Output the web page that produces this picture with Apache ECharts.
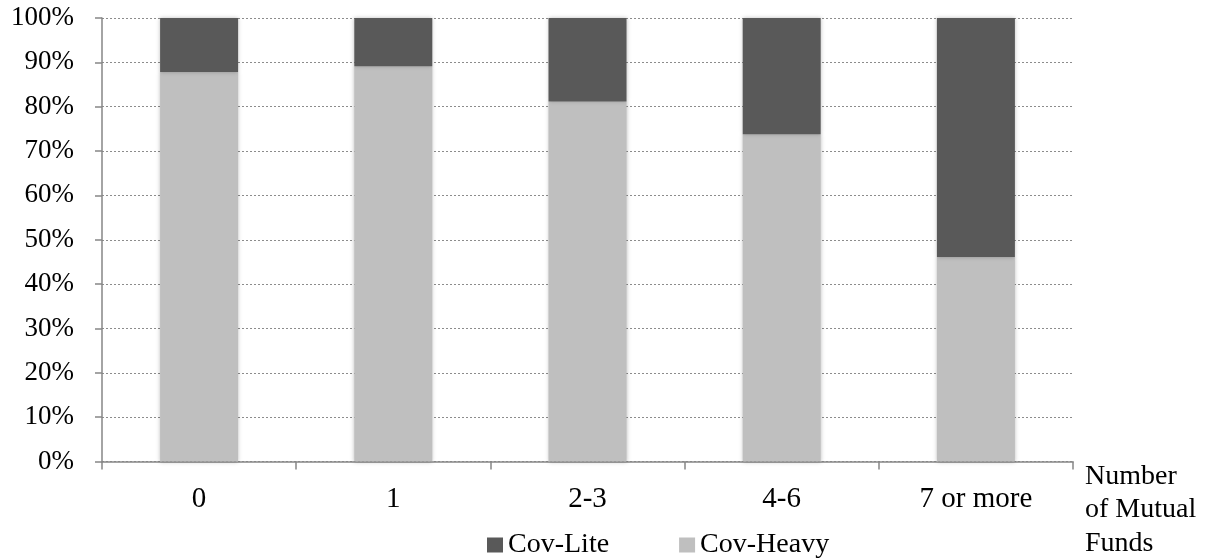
<!DOCTYPE html>
<html>
<head>
<meta charset="utf-8">
<script src="https://cdn.jsdelivr.net/npm/echarts@6/dist/echarts.min.js"></script>
<style>html,body{margin:0;padding:0;background:#fff}#c{width:1212px;height:560px}</style>
</head>
<body>
<div id="c"></div>
<script>
const categories = ['0', '1', '2-3', '4-6', '7 or more'];
const covHeavy = [87.8, 89.1, 81.2, 73.8, 46.1];
const covLite = [12.2, 10.9, 18.8, 26.2, 53.9];
const yTicks = [0, 10, 20, 30, 40, 50, 60, 70, 80, 90, 100];

const font = '"Liberation Serif", "Times New Roman", serif';
const axisColor = '#868686';
const chart = echarts.init(document.getElementById('c'));
chart.setOption({
  animation: false,
  textStyle: { fontFamily: font },
  grid: { left: 102, right: 139, top: 18, bottom: 96 },
  legend: {
    data: ['Cov-Lite', 'Cov-Heavy'],
    left: 482, top: 526,
    itemWidth: 16, itemHeight: 15, itemGap: 70,
    icon: 'rect',
    textStyle: { fontFamily: font, fontSize: 28, color: '#000', padding: [0, 0, 0, 0] }
  },
  xAxis: {
    type: 'category',
    data: categories,
    name: 'Number\nof Mutual\nFunds',
    nameLocation: 'end',
    nameGap: 12,
    nameTextStyle: { fontFamily: font, fontSize: 28, color: '#000', align: 'left', verticalAlign: 'top', lineHeight: 33.5, padding: [-2, 0, 0, 0] },
    axisLine: { lineStyle: { color: axisColor, width: 1.5 } },
    axisTick: { show: true, length: 8, lineStyle: { color: axisColor, width: 1.5 } },
    axisLabel: { fontFamily: font, fontSize: 29, color: '#000', margin: 23 }
  },
  yAxis: {
    type: 'value',
    min: 0, max: 100, interval: 10,
    axisLine: { show: true, lineStyle: { color: axisColor, width: 1.5 } },
    axisTick: { show: true, length: 7, lineStyle: { color: axisColor, width: 1.5 } },
    axisLabel: { fontFamily: font, fontSize: 27, color: '#000', margin: 28, formatter: v => yTicks.includes(v) ? v + '%' : '' },
    splitLine: { show: true, lineStyle: { color: '#8c8c8c', type: [2, 2], width: 1 } }
  },
  series: [
    {
      name: 'Cov-Heavy', type: 'bar', stack: 'a', data: covHeavy, barWidth: 78,
      itemStyle: { color: '#bfbfbf', shadowBlur: 4, shadowColor: 'rgba(0,0,0,0.25)' }
    },
    {
      name: 'Cov-Lite', type: 'bar', stack: 'a', data: covLite, barWidth: 78,
      itemStyle: { color: '#595959', shadowBlur: 4, shadowColor: 'rgba(0,0,0,0.25)' }
    }
  ]
});
</script>
</body>
</html>
